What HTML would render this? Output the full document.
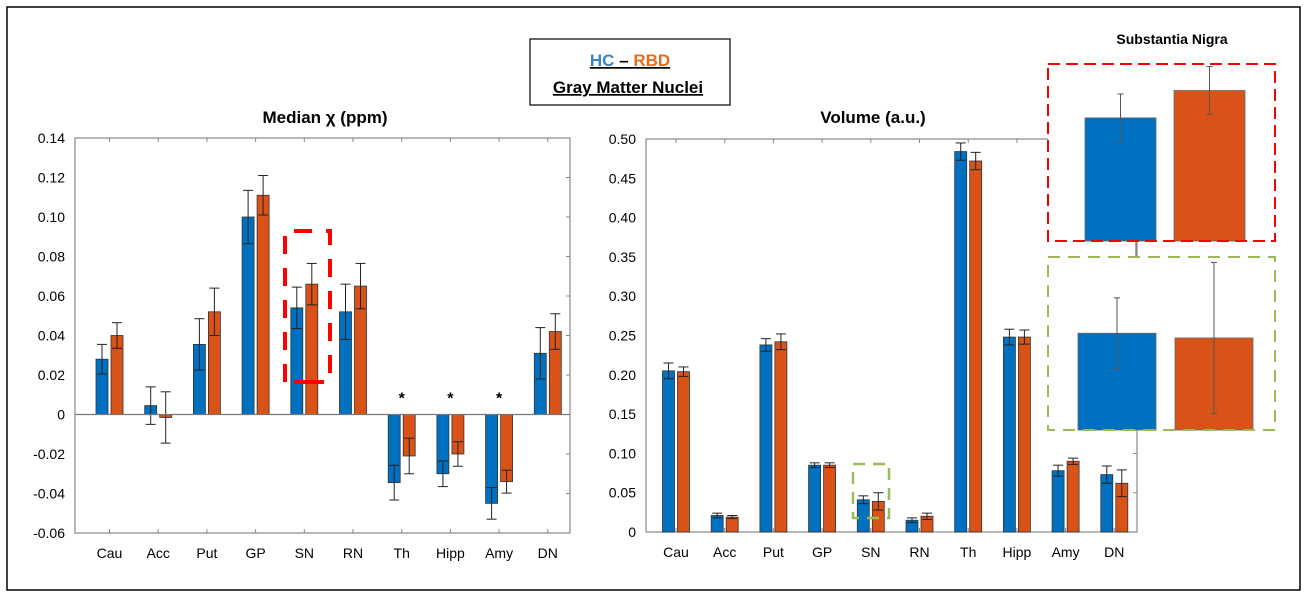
<!DOCTYPE html>
<html><head><meta charset="utf-8"><style>
body{margin:0;background:#fff;font-family:"Liberation Sans",sans-serif}
svg text{font-family:"Liberation Sans","DejaVu Sans",sans-serif}
</style></head><body>
<svg id="fig" width="1311" height="600" viewBox="0 0 1311 600" xmlns="http://www.w3.org/2000/svg">
<rect x="7" y="7" width="1293" height="583" fill="#fff" stroke="#000" stroke-width="1.5"/>
<g>
<rect x="530" y="39" width="200" height="66" fill="#fff" stroke="#000" stroke-width="1.2"/>
<text x="630" y="66" text-anchor="middle" font-size="17" font-weight="bold" text-decoration="underline"><tspan fill="#3c84c6">HC</tspan><tspan fill="#000"> – </tspan><tspan fill="#e46c1c">RBD</tspan></text>
<text x="628" y="93" text-anchor="middle" font-size="17" font-weight="bold" text-decoration="underline">Gray Matter Nuclei</text>
</g>
<text x="325" y="123" text-anchor="middle" font-size="17" font-weight="bold">Median χ (ppm)</text>
<text x="873" y="123" text-anchor="middle" font-size="17" font-weight="bold">Volume (a.u.)</text>
<text x="1172" y="44" text-anchor="middle" font-size="14" font-weight="bold">Substantia Nigra</text>
<g id="left"></g><g id="right"></g><g id="inset"></g>
</svg>
<script>
const categories=["Cau","Acc","Put","GP","SN","RN","Th","Hipp","Amy","DN"];
const chiHC=[0.028,0.0045,0.0355,0.100,0.054,0.052,-0.0345,-0.030,-0.045,0.031];
const chiHCerr=[0.0075,0.0095,0.013,0.0135,0.0105,0.014,0.0088,0.0065,0.008,0.013];
const chiRBD=[0.040,-0.0015,0.052,0.111,0.066,0.065,-0.021,-0.020,-0.034,0.042];
const chiRBDerr=[0.0065,0.013,0.012,0.010,0.0105,0.0115,0.009,0.0062,0.0058,0.009];
const chiTicks=[0.14,0.12,0.10,0.08,0.06,0.04,0.02,0,-0.02,-0.04,-0.06];
const chiTickLabels=["0.14","0.12","0.10","0.08","0.06","0.04","0.02","0","-0.02","-0.04","-0.06"];
const volHC=[0.205,0.021,0.238,0.085,0.041,0.015,0.484,0.248,0.078,0.073];
const volHCerr=[0.010,0.003,0.008,0.003,0.005,0.003,0.011,0.010,0.007,0.011];
const volRBD=[0.204,0.019,0.242,0.085,0.039,0.020,0.472,0.248,0.090,0.062];
const volRBDerr=[0.006,0.002,0.010,0.003,0.011,0.004,0.011,0.009,0.004,0.017];
const volTicks=[0.5,0.45,0.4,0.35,0.3,0.25,0.2,0.15,0.1,0.05,0];
const volTickLabels=["0.50","0.45","0.40","0.35","0.30","0.25","0.20","0.15","0.10","0.05","0"];
const sigIdx=[6,7,8];
const NS="http://www.w3.org/2000/svg";
const BLUE="#0070c0",ORANGE="#d95319";
function mk(p,tag,a){const e=document.createElementNS(NS,tag);for(const k in a)e.setAttribute(k,a[k]);p.appendChild(e);return e;}
function chart(g,o){
  const y=v=>o.y0+(v-o.min)/(o.max-o.min)*(o.y1-o.y0);
  const x=i=>o.x0c+i*o.step;
  const frame=mk(g,'rect',{x:o.left,y:o.y1,width:o.right-o.left,height:o.y0-o.y1,fill:'none',stroke:'#888','stroke-width':1.2});
  
  
  o.ticks.forEach((t,k)=>{
    const ty=y(t);
    const tl=mk(g,'text',{x:o.left-10,y:ty+5,'text-anchor':'end','font-size':14,fill:'#000'});
    tl.textContent=o.labels[k];
    
    
    mk(g,'line',{x1:o.right-4,x2:o.right,y1:ty,y2:ty,stroke:'#888'});
  });
  const z=y(0);
  categories.forEach((c,i)=>{
    const cx=x(i);
    mk(g,'line',{x1:cx,x2:cx,y1:o.y1,y2:o.y1+4,stroke:'#888'});
    mk(g,'line',{x1:cx,x2:cx,y1:o.y0,y2:o.y0-4,stroke:'#888'});
    const lb=mk(g,'text',{x:cx,y:o.y0+25,'text-anchor':'middle','font-size':14});
    lb.textContent=c;
    
    
    [[o.a,o.ae,BLUE,-7.5,'hc'],[o.b,o.be,ORANGE,7.5,'rbd']].forEach(([v,e,col,off,s])=>{
      const vy=y(v[i]);
      const r=mk(g,'rect',{x:cx+off-6,y:Math.min(vy,z),width:12,height:Math.max(Math.abs(vy-z),1),fill:col,stroke:'#333','stroke-width':0.8});
      
      
      const e1=y(v[i]+e[i]),e2=y(v[i]-e[i]);
      mk(g,'line',{x1:cx+off,x2:cx+off,y1:e1,y2:e2,stroke:'#222','stroke-width':1});
      mk(g,'line',{x1:cx+off-5,x2:cx+off+5,y1:e1,y2:e1,stroke:'#222','stroke-width':1});
      mk(g,'line',{x1:cx+off-5,x2:cx+off+5,y1:e2,y2:e2,stroke:'#222','stroke-width':1});
    });
  });
  if(o.zero) mk(g,'line',{x1:o.left,x2:o.right,y1:z,y2:z,stroke:'#777','stroke-width':1.2});
  return {x,y};
}
const L=chart(document.getElementById('left'),{name:'chi',left:75,right:570,y0:533,y1:138,min:-0.06,max:0.14,x0c:109.5,step:48.7,a:chiHC,ae:chiHCerr,b:chiRBD,be:chiRBDerr,ticks:chiTicks,labels:chiTickLabels,zero:true});
sigIdx.forEach(i=>{
  const t=mk(document.getElementById('left'),'text',{x:L.x(i),y:L.y(0)-11,'text-anchor':'middle','font-size':16,'font-weight':'bold'});
  t.textContent='*';
  
  
});
const R=chart(document.getElementById('right'),{name:'vol',left:646,right:1137,y0:532,y1:139,min:0,max:0.5,x0c:676,step:48.7,a:volHC,ae:volHCerr,b:volRBD,be:volRBDerr,ticks:volTicks,labels:volTickLabels,zero:false});
const gl=document.getElementById('left');
const hl1=mk(gl,'path',{d:'M285,382 L285,231 L330,231 L330,382',fill:'none',stroke:'#f00','stroke-width':4,'stroke-dasharray':'18,14'});


mk(gl,'line',{x1:294,x2:324,y1:382,y2:382,stroke:'#f00','stroke-width':4});
const gr=document.getElementById('right');
const hl2=mk(gr,'rect',{x:853,y:464,width:36,height:54,fill:'none',stroke:'#9bbb59','stroke-width':2.5,'stroke-dasharray':'12,8'});


// inset
const gi=document.getElementById('inset');
mk(gi,'line',{x1:1136,x2:1136,y1:242,y2:256,stroke:'#888','stroke-width':1.5});
function inset(top,bot,box,stroke,vals,errs,scale,xs,w,name){
  mk(gi,'rect',{x:1048,y:top,width:227,height:bot-top,fill:'#fff'});
  [0,1].forEach(k=>{
    const h=vals[k]*scale;
    const r=mk(gi,'rect',{x:xs[k],y:bot-h,width:w,height:h,fill:k?ORANGE:BLUE,stroke:'#666','stroke-width':0.8});
    
    
    const cx=xs[k]+w/2,e1=bot-(vals[k]+errs[k])*scale,e2=bot-(vals[k]-errs[k])*scale;
    mk(gi,'line',{x1:cx,x2:cx,y1:e1,y2:e2,stroke:'#555','stroke-width':1});
    mk(gi,'line',{x1:cx-3,x2:cx+3,y1:e1,y2:e1,stroke:'#555'});
    mk(gi,'line',{x1:cx-3,x2:cx+3,y1:e2,y2:e2,stroke:'#555'});
  });
  const b=mk(gi,'rect',{x:1048,y:top,width:227,height:bot-top,fill:'none',stroke:stroke,'stroke-width':2,'stroke-dasharray':box});
  
  
}
inset(64,241,'12,6','#f00',[chiHC[4],chiRBD[4]],[chiHCerr[4],chiRBDerr[4]],2280,[1085,1174],71,'inset-chi');
inset(257,430,'12,8','#9bbb59',[volHC[4],volRBD[4]],[0.015,0.032],2360,[1078,1175],78,'inset-vol');
</script>
</body></html>
